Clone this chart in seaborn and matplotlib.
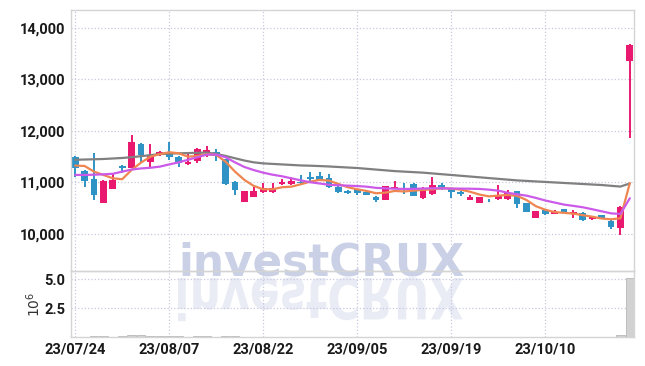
import matplotlib
matplotlib.use("Agg")
import matplotlib.pyplot as plt
import matplotlib.ticker as mticker
import numpy as np
import pandas as pd
import seaborn as sns
from matplotlib.font_manager import FontProperties
from matplotlib.patches import PathPatch
from matplotlib.textpath import TextPath
from matplotlib.transforms import Affine2D

# trading days (KRX holidays skipped)
holidays = ["2023-08-15", "2023-09-28", "2023-09-29", "2023-10-02", "2023-10-03", "2023-10-09"]
dates = pd.bdate_range("2023-07-24", periods=60, freq="C", holidays=holidays)

opens = [11501, 11223, 11068, 10608, 10880, 11320, 11287, 11748, 11404, 11530,
         11586, 11501, 11353, 11423, 11586, 11586, 11450, 11010, 10627, 10724,
         10810, 10810, 10965, 10965, 11010, 11113, 11126, 11094, 10918, 10835,
         10874, 10821, 10724, 10660, 10874, 10880, 10971, 10693, 10770, 10951,
         10867, 10821, 10660, 10608, 10647, 10673, 10673, 10835, 10596, 10317,
         10466, 10394, 10485, 10382, 10414, 10285, 10369, 10259, 10123, 13365]
closes = [11276, 11035, 10757, 11035, 11049, 11280, 11786, 11534, 11534, 11590,
          11501, 11385, 11404, 11644, 11631, 11520, 10965, 10849, 10835, 10841,
          10887, 10887, 11016, 11029, 10990, 11062, 11049, 10907, 10821, 10800,
          10802, 10757, 10660, 10932, 10906, 10860, 10744, 10867, 10951, 10874,
          10810, 10777, 10724, 10712, 10635, 10738, 10802, 10577, 10433, 10447,
          10388, 10433, 10414, 10421, 10272, 10336, 10291, 10130, 10531, 13670]
highs = [11515, 11240, 11567, 11040, 11190, 11340, 11928, 11760, 11748, 11620,
         11792, 11510, 11586, 11660, 11709, 11644, 11460, 11020, 10840, 10918,
         10985, 10985, 11068, 11113, 11146, 11210, 11198, 11159, 10925, 10850,
         10880, 10830, 10730, 10940, 11035, 10996, 10980, 10918, 11113, 10985,
         10875, 10830, 10757, 10720, 10673, 10951, 10854, 10840, 10600, 10455,
         10470, 10460, 10490, 10466, 10420, 10345, 10375, 10265, 10540, 13683]
lows = [11113, 10918, 10660, 10600, 10870, 11185, 11280, 11378, 11307, 11520,
        11437, 11307, 11345, 11373, 11501, 11423, 10945, 10757, 10620, 10715,
        10800, 10800, 10955, 10960, 10951, 11016, 11040, 10900, 10790, 10780,
        10757, 10750, 10627, 10650, 10865, 10770, 10735, 10685, 10760, 10854,
        10693, 10738, 10655, 10600, 10615, 10665, 10665, 10499, 10420, 10310,
        10370, 10385, 10400, 10317, 10260, 10280, 10285, 10091, 9980, 11858]
# volume, millions of shares
volumes = [0.05, 0.04, 0.12, 0.08, 0.05, 0.06, 0.20, 0.15, 0.10, 0.08,
           0.12, 0.07, 0.05, 0.09, 0.06, 0.05, 0.10, 0.06, 0.04, 0.03,
           0.03, 0.03, 0.03, 0.03, 0.02, 0.03, 0.03, 0.03, 0.02, 0.02,
           0.02, 0.02, 0.03, 0.04, 0.02, 0.02, 0.03, 0.03, 0.03, 0.02,
           0.02, 0.02, 0.02, 0.02, 0.02, 0.03, 0.03, 0.03, 0.03, 0.02,
           0.02, 0.02, 0.02, 0.02, 0.02, 0.02, 0.02, 0.03, 0.15, 5.10]

ma5 = [11327, 11320, 11210, 11146, 11081, 11062, 11243, 11385, 11500, 11550,
       11586, 11567, 11500, 11515, 11547, 11534, 11404, 11210, 11049, 10932,
       10867, 10867, 10907, 10918, 10965, 11016, 11049, 11035, 10971, 10907,
       10867, 10835, 10790, 10802, 10835, 10825, 10841, 10855, 10867, 10887,
       10880, 10860, 10820, 10765, 10730, 10744, 10757, 10740, 10660, 10540,
       10470, 10425, 10410, 10395, 10365, 10335, 10300, 10285, 10304, 10985]
ma10 = [11146, 11146, 11150, 11158, 11168, 11210, 11250, 11272, 11285, 11307,
        11350, 11390, 11440, 11490, 11540, 11540, 11490, 11390, 11300, 11240,
        11190, 11150, 11120, 11080, 11040, 11004, 10980, 10955, 10945, 10938,
        10930, 10918, 10895, 10885, 10878, 10874, 10875, 10882, 10887, 10885,
        10882, 10880, 10878, 10874, 10860, 10841, 10800, 10770, 10744, 10700,
        10650, 10610, 10570, 10545, 10518, 10480, 10440, 10400, 10388, 10693]
ma60 = [11440, 11445, 11450, 11455, 11465, 11475, 11490, 11510, 11530, 11550,
        11560, 11565, 11570, 11575, 11580, 11555, 11515, 11470, 11425, 11390,
        11370, 11360, 11350, 11340, 11330, 11325, 11318, 11310, 11300, 11290,
        11280, 11265, 11250, 11235, 11220, 11210, 11200, 11190, 11175, 11160,
        11145, 11130, 11115, 11100, 11085, 11070, 11055, 11040, 11030, 11020,
        11010, 11000, 10990, 10980, 10970, 10960, 10950, 10935, 10920, 10980]

df = pd.DataFrame({"date": dates, "open": opens, "close": closes, "high": highs,
                   "low": lows, "volume": volumes, "ma5": ma5, "ma10": ma10, "ma60": ma60})
df["i"] = np.arange(len(df))

UP = "#e8196f"
DOWN = "#2f93c6"
GRID = "#c9c9e0"
EDGE = "#d4d4d4"
FONTS = ["Roboto", "DejaVu Sans"]

sns.set_theme(style="white")
plt.rcParams["font.family"] = FONTS

fig = plt.figure(figsize=(6.45, 3.66), dpi=100)
gs = fig.add_gridspec(2, 1, height_ratios=[261, 66], hspace=0,
                      left=0.110, right=0.983, top=0.973, bottom=0.079)
ax = fig.add_subplot(gs[0])
axv = fig.add_subplot(gs[1], sharex=ax)

# watermark and its reflection, behind both axes
fig.text(178 / 645, 1 - 276 / 366, "investCRUX", fontsize=31.5, fontweight="bold",
         color="#cad1e7", family=["DejaVu Sans"], va="baseline", ha="left", zorder=-2)
fp = FontProperties(family="DejaVu Sans", weight="bold")
tp = TextPath((0, 0), "investCRUX", size=40, prop=fp)
ext = tp.get_extents()
sx = 285 / ext.width
sy = 44 / ext.height
refl = PathPatch(tp, transform=Affine2D().translate(-ext.x0, 0).scale(sx, -sy).translate(178, 366 - 278),
                 color="#e9ecf5", lw=0, zorder=-3)
fig.patches.append(refl)

# candles
colors = [UP if c >= o else DOWN for o, c in zip(df["open"], df["close"])]
body_lo = np.minimum(df["open"], df["close"])
body_h = np.maximum(np.abs(df["close"] - df["open"]), 12)
ax.vlines(df["i"], df["low"], df["high"], colors=colors, lw=1.4, zorder=2)
ax.bar(df["i"], body_h, bottom=body_lo, width=0.72, color=colors, lw=0, zorder=2)

# moving averages
sns.lineplot(data=df, x="i", y="ma60", ax=ax, color="#808080", lw=1.6, zorder=3)
sns.lineplot(data=df, x="i", y="ma5", ax=ax, color="#ef8550", lw=1.6, zorder=3)
sns.lineplot(data=df, x="i", y="ma10", ax=ax, color="#cc5ae8", lw=1.6, zorder=3)

# volume
axv.bar(df["i"], df["volume"], width=0.9, color="#d2d2d2", edgecolor="#b8b8b8", lw=0.6, zorder=2)

ax.set_xlim(-0.45, 59.45)
ax.set_ylim(9280, 14350)
ax.set_yticks([10000, 11000, 12000, 13000, 14000])
ax.yaxis.set_major_formatter(mticker.FuncFormatter(lambda v, p: f"{v:,.0f}"))
axv.set_ylim(0, 5.7)
axv.set_yticks([2.5, 5.0])

ticks = list(range(0, 60, 10))
axv.set_xticks(ticks)
axv.set_xticklabels([dates[t].strftime("%y/%m/%d") for t in ticks])
ax.tick_params(axis="x", labelbottom=False)

for a in (ax, axv):
    a.set_facecolor("none")
    a.set(xlabel="", ylabel="")
    a.grid(True, ls=":", color=GRID, lw=0.9)
    a.tick_params(length=0, labelsize=10.5, colors="#1a1a1a", pad=4)
    for lab in a.get_xticklabels() + a.get_yticklabels():
        lab.set_fontweight("bold")
    for s in a.spines.values():
        s.set_color(EDGE)
        s.set_linewidth(1.0)
axv.set_ylabel(r"$10^6$", fontsize=10, color="#333333", labelpad=1)

plt.savefig("out.png", dpi=100)
